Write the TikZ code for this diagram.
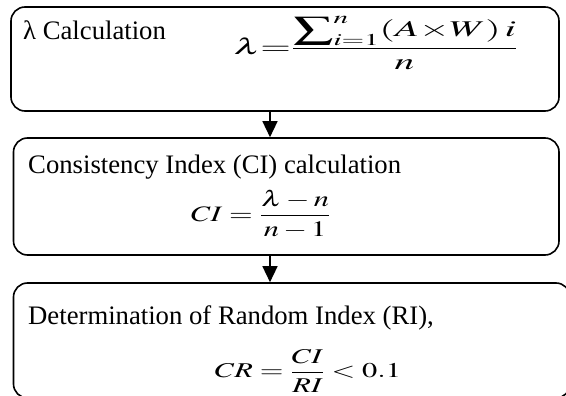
\documentclass[tikz,border=0pt]{standalone}
\usepackage{mathptmx}
\usepackage{graphicx}
\usepackage[no-math]{fontspec}
\setmainfont{Liberation Serif}
\usetikzlibrary{arrows.meta}
\begin{document}
\begin{tikzpicture}[x=1pt,y=-1pt,
  box/.style={draw,line width=1.6pt,rounded corners=14pt,inner sep=0pt},
  lbl/.style={anchor=base west,inner sep=0pt,font=\fontsize{26.7}{32}\selectfont},
  frm/.style={inner sep=0pt,font=\fontsize{21}{25}\selectfont},
  conn/.style={line width=1.4pt,-{Triangle[width=15pt,length=16pt]}}]
\useasboundingbox (0,0) rectangle (566,396);
\begin{scope}
\clip (0,0) rectangle (566,396);
\node[box,minimum width=548pt,minimum height=104pt] (b1) at (285,59) {};
\node[box,minimum width=545.5pt,minimum height=117pt] (b2) at (286.25,196.5) {};
\node[box,minimum width=556.5pt,minimum height=115pt] (b3) at (291.75,340.5) {};
\end{scope}
\node[lbl] (t1) at (23,40) {λ Calculation};
\node[lbl] (t2) at (28,174) {Consistency Index (CI) calculation};
\node[lbl] (t3) at (28,324) {Determination of Random Index (RI),};
\node[frm,font=\fontsize{22.5}{27}\selectfont] (f1) at (376,43) {\scalebox{1.75}[1.0]{$\displaystyle\lambda{=}\frac{\displaystyle\sum\nolimits_{i=1}^{n}(A{\times}W)\,i}{n}$}};
\node[frm] (f2) at (261,214) {\scalebox{1.45}[1.05]{$\displaystyle CI=\frac{\lambda-n}{n-1}$}};
\node[frm] (f3) at (308,371) {\scalebox{1.45}[1.0]{$\displaystyle CR=\frac{CI}{RI}<0.1$}};
\coordinate (ax) at (270,0);
\draw[conn] (b1.south -| ax) -- (b2.north -| ax);
\draw[conn] (b2.south -| ax) -- (b3.north -| ax);
\end{tikzpicture}
\end{document}
